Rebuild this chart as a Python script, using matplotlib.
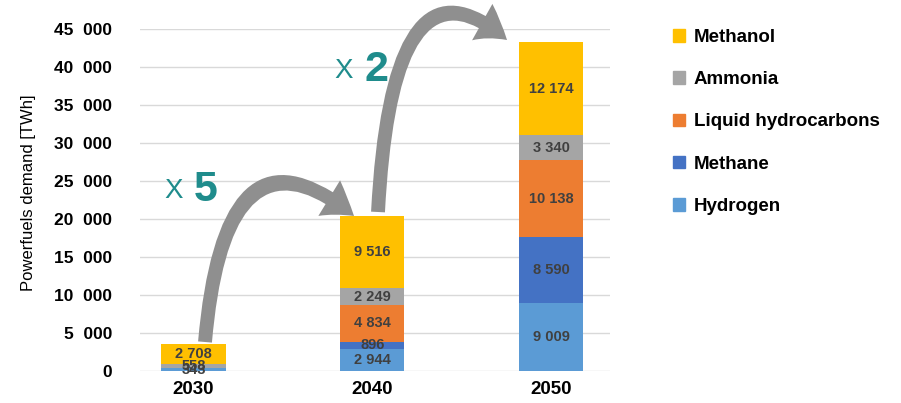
import matplotlib.pyplot as plt
from matplotlib.patches import FancyArrowPatch, Patch
from matplotlib.path import Path
import numpy as np

plt.rcParams["font.family"] = ["Liberation Sans", "DejaVu Sans"]

years = ["2030", "2040", "2050"]
fuels = ["Hydrogen", "Methane", "Liquid hydrocarbons", "Ammonia", "Methanol"]
hydrogen = [343, 2944, 9009]
methane = [0, 896, 8590]
liquid = [0, 4834, 10138]
ammonia = [558, 2249, 3340]
methanol = [2708, 9516, 12174]
colors = ["#5B9BD5", "#4472C4", "#ED7D31", "#A5A5A5", "#FFC000"]
yticks = [0, 5000, 10000, 15000, 20000, 25000, 30000, 35000, 40000, 45000]

W, H = 901, 403
fig = plt.figure(figsize=(W / 100, H / 100), dpi=100)
ax = fig.add_axes([140 / W, (H - 371) / H, 470 / W, 342 / H])

x = np.arange(len(years))
bottom = np.zeros(len(years))
for name, vals, c in zip(fuels, [hydrogen, methane, liquid, ammonia, methanol], colors):
    vals = np.array(vals, dtype=float)
    ax.bar(x, vals, 0.36, bottom=bottom, color=c, zorder=2)
    for xi, b, v in zip(x, bottom, vals):
        if v > 0:
            lab = f"{int(v):,}".replace(",", " ")
            ax.text(xi, b + v / 2, lab, ha="center", va="center",
                    fontsize=10.5, fontweight="bold", color="#404040", zorder=3)
    bottom += vals

ax.set_xlim(-0.3, 2.33)
ax.set_ylim(0, 45000)
ax.set_yticks(yticks)
ax.set_yticklabels([f"{t:,}".replace(",", "  ") for t in yticks],
                   fontsize=12.5, fontweight="bold")
ax.set_xticks(x)
ax.set_xticklabels(years, fontsize=13.5, fontweight="bold")
ax.tick_params(axis="both", length=0, pad=7)
ax.tick_params(axis="y", pad=20)
ax.grid(axis="y", color="#d9d9d9", lw=1, zorder=0)
for s in ax.spines.values():
    s.set_visible(False)
ax.set_ylabel("Powerfuels demand [TWh]", fontsize=12)
ax.yaxis.set_label_coords(-0.222, 0.52)

# pixel -> data helpers for the arrows
def px(p, q):
    return ((p - 140) / 178.7 - 0.3, (371 - q) * 45000 / 342)

def curve(p0, c, p1):
    verts = [px(*p0), px(*c), px(*p1)]
    return Path(verts, [Path.MOVETO, Path.CURVE3, Path.CURVE3])

for pts in [((205, 342), (225, 110), (354, 216)),
            ((378, 212), (392, -60), (507, 40))]:
    arr = FancyArrowPatch(path=curve(*pts), transform=ax.transData,
                          arrowstyle="simple,head_width=30,head_length=22,tail_width=10",
                          color="#8f8f8f", lw=0, clip_on=False, zorder=4)
    ax.add_patch(arr)

teal = "#1F8C8C"
fig.text(164 / W, 1 - 191 / H, "X", fontsize=20, color=teal, va="center")
fig.text(194 / W, 1 - 190 / H, "5", fontsize=31, color=teal, fontweight="bold", va="center")
fig.text(334 / W, 1 - 71 / H, "X", fontsize=20, color=teal, va="center")
fig.text(364 / W, 1 - 70 / H, "2", fontsize=31, color=teal, fontweight="bold", va="center")

handles = [Patch(color=c, label=n) for n, c in zip(fuels, colors)][::-1]
fig.legend(handles=handles, loc="upper left", bbox_to_anchor=(656 / W, 1 - 12 / H),
           frameon=False, prop={"size": 13.5, "weight": "bold"},
           handlelength=0.65, handleheight=0.65, handletextpad=0.45, labelspacing=1.35)

fig.savefig("out.png", dpi=100)
